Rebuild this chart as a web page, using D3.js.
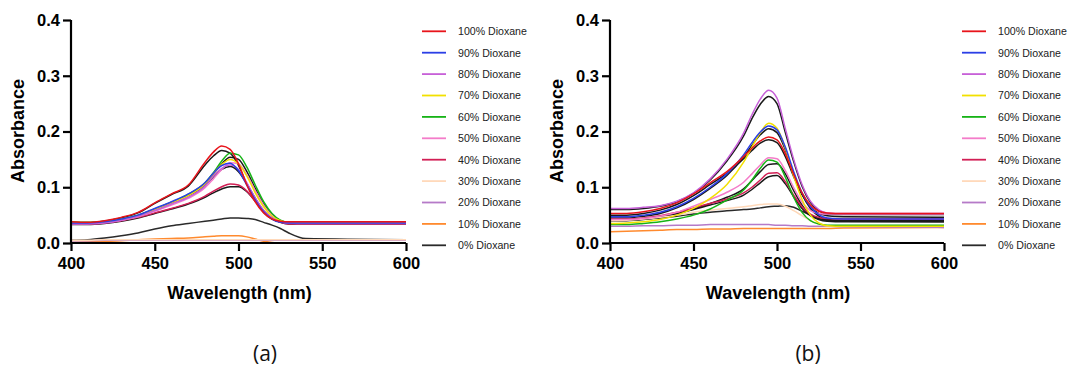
<!DOCTYPE html>
<html>
<head>
<meta charset="utf-8">
<script src="https://cdn.jsdelivr.net/npm/d3@7"></script>
<style>
  body { margin: 0; background: #fff; }
  svg { display: block; font-family: "Liberation Sans", Arial, sans-serif; }
</style>
</head>
<body>
<div id="chart"></div>
<script>
// wavelength grid (nm) shared by every spectrum
const wl = [400, 410, 420, 430, 440, 450, 460, 470, 480, 485, 490, 495, 500, 505, 510, 515, 520, 525, 530, 540, 600];

const labels = ["100% Dioxane", "90% Dioxane", "80% Dioxane", "70% Dioxane", "60% Dioxane", "50% Dioxane",
                "40% Dioxane", "30% Dioxane", "20% Dioxane", "10% Dioxane", "0% Dioxane"];
const colors = ["#e8141b", "#2b3fe6", "#c760d8", "#f2e000", "#16b316", "#f47cc9",
                "#d21f55", "#ffd9ba", "#b57ac8", "#ff8a2e", "#2a2a2a"];

const xTicks = [400, 450, 500, 550, 600];
const yTicks = [0.0, 0.1, 0.2, 0.3, 0.4];

// panel (a)
const a100 = [0.038,0.037,0.040,0.046,0.055,0.072,0.088,0.104,0.145,0.163,0.174,0.168,0.142,0.104,0.074,0.054,0.043,0.039,0.038,0.038,0.038];
const a90  = [0.036,0.036,0.038,0.043,0.050,0.062,0.074,0.088,0.108,0.125,0.139,0.143,0.130,0.104,0.077,0.056,0.043,0.037,0.036,0.036,0.036];
const a80  = [0.034,0.034,0.036,0.041,0.048,0.058,0.070,0.082,0.102,0.120,0.134,0.140,0.132,0.108,0.081,0.059,0.045,0.038,0.036,0.035,0.035];
const a70  = [0.037,0.036,0.038,0.042,0.049,0.060,0.072,0.085,0.106,0.124,0.141,0.150,0.142,0.120,0.090,0.065,0.048,0.040,0.037,0.037,0.037];
const a60  = [0.038,0.037,0.039,0.043,0.050,0.061,0.073,0.087,0.108,0.126,0.147,0.161,0.158,0.136,0.104,0.074,0.053,0.041,0.037,0.037,0.037];
const a50  = [0.035,0.035,0.037,0.041,0.047,0.057,0.068,0.080,0.099,0.115,0.132,0.144,0.142,0.122,0.094,0.068,0.050,0.040,0.036,0.036,0.036];
const a40  = [0.034,0.034,0.036,0.040,0.046,0.054,0.062,0.071,0.084,0.093,0.101,0.106,0.104,0.093,0.075,0.057,0.044,0.037,0.034,0.034,0.034];
const a30  = [0.005,0.005,0.006,0.006,0.006,0.006,0.006,0.006,0.006,0.006,0.006,0.006,0.006,0.006,0.006,0.006,0.006,0.006,0.006,0.006,0.006];
const a20  = [0.004,0.004,0.005,0.005,0.005,0.005,0.005,0.005,0.005,0.005,0.005,0.005,0.005,0.005,0.005,0.005,0.005,0.005,0.005,0.005,0.005];
const a10  = [0.001,0.002,0.003,0.004,0.006,0.007,0.008,0.009,0.011,0.012,0.013,0.013,0.013,0.011,0.007,0.003,0.001,0.000,0.000,0.000,0.000];
const a0   = [0.005,0.006,0.009,0.013,0.018,0.025,0.031,0.035,0.039,0.041,0.043,0.045,0.045,0.044,0.042,0.037,0.032,0.026,0.018,0.008,0.006];
// black replicate traces in (a)
const aRep1 = [0.036,0.036,0.039,0.045,0.054,0.071,0.087,0.102,0.140,0.156,0.166,0.161,0.139,0.105,0.076,0.055,0.043,0.038,0.036,0.036,0.036];
const aRep2 = [0.036,0.036,0.038,0.042,0.049,0.060,0.072,0.086,0.106,0.124,0.142,0.154,0.150,0.128,0.098,0.070,0.051,0.040,0.037,0.037,0.037];
const aRep3 = [0.035,0.035,0.037,0.042,0.049,0.060,0.072,0.085,0.103,0.119,0.132,0.137,0.128,0.106,0.080,0.058,0.045,0.038,0.035,0.035,0.035];
const aRep4 = [0.033,0.033,0.035,0.039,0.045,0.053,0.061,0.070,0.082,0.090,0.097,0.101,0.101,0.092,0.075,0.057,0.044,0.037,0.034,0.034,0.034];

// panel (b)
const b100 = [0.053,0.053,0.056,0.062,0.072,0.088,0.108,0.128,0.155,0.170,0.183,0.190,0.185,0.160,0.123,0.090,0.068,0.057,0.054,0.053,0.053];
const b90  = [0.047,0.047,0.050,0.055,0.065,0.080,0.100,0.124,0.158,0.180,0.199,0.210,0.203,0.172,0.128,0.090,0.065,0.051,0.045,0.043,0.043];
const b80  = [0.062,0.062,0.064,0.067,0.075,0.090,0.115,0.150,0.197,0.230,0.258,0.274,0.260,0.205,0.150,0.105,0.075,0.060,0.054,0.053,0.053];
const b70  = [0.035,0.036,0.038,0.042,0.050,0.062,0.080,0.105,0.145,0.172,0.198,0.215,0.206,0.170,0.120,0.078,0.050,0.036,0.031,0.030,0.030];
const b60  = [0.033,0.033,0.035,0.038,0.043,0.050,0.061,0.077,0.095,0.113,0.134,0.149,0.145,0.118,0.082,0.055,0.040,0.034,0.032,0.032,0.032];
const b50  = [0.042,0.042,0.044,0.048,0.055,0.066,0.078,0.091,0.109,0.124,0.140,0.153,0.151,0.130,0.099,0.073,0.058,0.053,0.052,0.052,0.052];
const b40  = [0.043,0.043,0.045,0.049,0.055,0.063,0.071,0.079,0.090,0.100,0.113,0.125,0.126,0.110,0.086,0.065,0.052,0.046,0.044,0.043,0.043];
const b30  = [0.040,0.041,0.043,0.046,0.050,0.055,0.059,0.062,0.065,0.067,0.069,0.070,0.070,0.066,0.058,0.049,0.040,0.034,0.031,0.030,0.030];
const b20  = [0.030,0.030,0.031,0.031,0.032,0.032,0.033,0.033,0.033,0.033,0.033,0.033,0.032,0.032,0.031,0.031,0.030,0.030,0.030,0.029,0.028];
const b10  = [0.020,0.021,0.022,0.023,0.024,0.024,0.025,0.025,0.026,0.026,0.026,0.026,0.026,0.026,0.026,0.026,0.026,0.026,0.026,0.027,0.028];
const b0   = [0.040,0.041,0.043,0.045,0.048,0.052,0.055,0.058,0.060,0.061,0.063,0.065,0.066,0.067,0.064,0.057,0.050,0.044,0.041,0.039,0.038];
// black replicate traces in (b)
const bRep1 = [0.060,0.060,0.062,0.066,0.074,0.089,0.113,0.147,0.192,0.223,0.249,0.263,0.250,0.198,0.146,0.102,0.073,0.058,0.052,0.051,0.051];
const bRep2 = [0.045,0.045,0.048,0.053,0.063,0.078,0.098,0.121,0.154,0.175,0.194,0.205,0.198,0.167,0.124,0.087,0.062,0.048,0.042,0.040,0.040];
const bRep3 = [0.050,0.050,0.053,0.059,0.069,0.085,0.105,0.125,0.151,0.166,0.179,0.185,0.180,0.155,0.119,0.087,0.065,0.053,0.049,0.047,0.046];
const bRep4 = [0.040,0.040,0.042,0.046,0.052,0.061,0.071,0.082,0.097,0.112,0.128,0.141,0.142,0.124,0.094,0.068,0.050,0.042,0.039,0.038,0.038];
const bRep5 = [0.041,0.041,0.043,0.047,0.053,0.060,0.068,0.076,0.086,0.096,0.108,0.119,0.121,0.106,0.083,0.062,0.049,0.043,0.041,0.040,0.040];

const seriesA = [a100, a90, a80, a70, a60, a50, a40, a30, a20, a10, a0];
const seriesB = [b100, b90, b80, b70, b60, b50, b40, b30, b20, b10, b0];
const repsA = [aRep1, aRep2, aRep3, aRep4];
const repsB = [bRep1, bRep2, bRep3, bRep4, bRep5];

const W = 1071, H = 368;
const svg = d3.select('#chart').append('svg').attr('width', W).attr('height', H);

function drawPanel(left, right, series, reps, legendX, captionX, caption) {
  const x = d3.scaleLinear().domain([400, 600]).range([left, right]);
  const y = d3.scaleLinear().domain([0, 0.4]).range([243, 20]);
  const g = svg.append('g');

  const line = d3.line()
    .x((d, i) => x(wl[i]))
    .y(d => y(d))
    .curve(d3.curveMonotoneX);

  // 0% first, then black replicates, then coloured spectra on top
  g.append('path').datum(series[10]).attr('d', line)
    .attr('fill', 'none').attr('stroke', colors[10]).attr('stroke-width', 1.5);
  reps.forEach(r => {
    g.append('path').datum(r).attr('d', line)
      .attr('fill', 'none').attr('stroke', '#1a1a1a').attr('stroke-width', 1.5);
  });
  [9, 8, 7, 6, 5, 4, 3, 2, 1, 0].forEach(i => {
    g.append('path').datum(series[i]).attr('d', line)
      .attr('fill', 'none').attr('stroke', colors[i]).attr('stroke-width', 1.5);
  });

  const xAxis = g.append('g')
    .attr('transform', 'translate(0,243)')
    .call(d3.axisBottom(x).tickValues(xTicks).tickSize(8).tickPadding(6).tickFormat(d3.format('d')));
  const yAxis = g.append('g')
    .attr('transform', 'translate(' + left + ',0)')
    .call(d3.axisLeft(y).tickValues(yTicks).tickSize(8).tickPadding(3).tickFormat(d3.format('.1f')));
  [xAxis, yAxis].forEach(ax => {
    ax.select('.domain').attr('stroke', '#000').attr('stroke-width', 2.2);
    ax.selectAll('.tick line').attr('stroke', '#000').attr('stroke-width', 2.2);
    ax.selectAll('.tick text').attr('fill', '#000')
      .style('font-size', '16.5px').style('font-weight', 'bold')
      .style('font-family', '"Liberation Sans", Arial, sans-serif');
  });
  xAxis.select('.domain').attr('d', 'M' + left + ',0H' + right);
  yAxis.select('.domain').attr('d', 'M0,' + y(0) + 'V' + y(0.4));

  g.append('text')
    .attr('transform', 'translate(' + (left - 47) + ',' + 131 + ') rotate(-90)')
    .attr('text-anchor', 'middle')
    .style('font-size', '18px').style('font-weight', 'bold')
    .text('Absorbance');

  g.append('text')
    .attr('x', (left + right) / 2 + 1).attr('y', 299)
    .attr('text-anchor', 'middle')
    .style('font-size', '18px').style('font-weight', 'bold')
    .text('Wavelength (nm)');

  // legend
  const leg = g.append('g');
  labels.forEach((lab, i) => {
    const ly = 31.3 + i * 21.4;
    leg.append('line')
      .attr('x1', legendX).attr('x2', legendX + 24)
      .attr('y1', ly).attr('y2', ly)
      .attr('stroke', colors[i]).attr('stroke-width', 1.8);
    leg.append('text')
      .attr('x', legendX + 36).attr('y', ly + 3.8)
      .style('font-size', '10.6px').attr('fill', '#222')
      .text(lab);
  });

  g.append('text')
    .attr('x', captionX).attr('y', 361)
    .attr('text-anchor', 'middle')
    .style('font-size', '21px').style('font-family', '"Open Sans", "Noto Sans", sans-serif')
    .attr('fill', '#111')
    .text(caption);
}

drawPanel(71, 406, seriesA, repsA, 422, 265, '(a)');
drawPanel(610, 944, seriesB, repsB, 962, 808, '(b)');
</script>
</body>
</html>
